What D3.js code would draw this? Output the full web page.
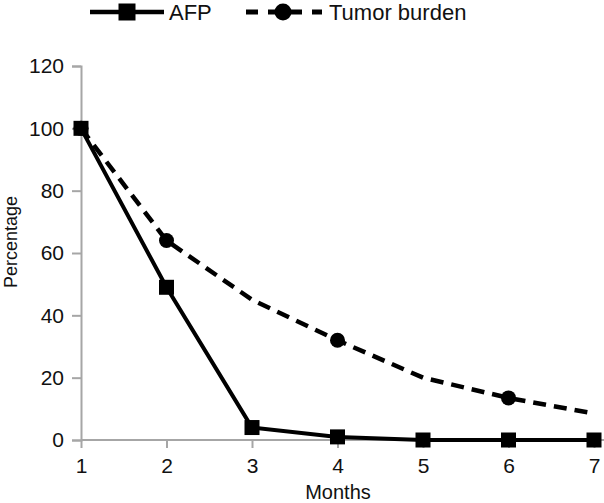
<!DOCTYPE html>
<html><head><meta charset="utf-8">
<script src="https://cdn.jsdelivr.net/npm/d3@7"></script>
<style>body{margin:0;background:#fff}svg{display:block}text{font-family:"Liberation Sans",Arial,sans-serif}</style>
</head><body><svg id="c" width="604" height="503"></svg>
<script>
const months = [1, 2, 3, 4, 5, 6, 7];
const afp = [100, 49, 4, 1, 0, 0, 0];
const tumor = [100, 64, 45, 32, 20, 13.5, 8.5];
const tumorMarkerMonths = [1, 2, 4, 6];
const yTicks = [0, 20, 40, 60, 80, 100, 120];
const seriesNames = ["AFP", "Tumor burden"];

const svg = d3.select("#c");
const x = d3.scaleLinear().domain([1, 7]).range([81, 594]);
const y = d3.scaleLinear().domain([0, 120]).range([440, 66]);
const axisColor = "#a6a6a6";
const FONT = "Liberation Sans, Arial, sans-serif";

const gy = svg.append("g").attr("transform", "translate(81,0)")
  .call(d3.axisLeft(y).tickValues(yTicks).tickSize(9).tickPadding(8));
gy.select(".domain").attr("stroke", axisColor).attr("stroke-width", 2);
gy.selectAll(".tick line").attr("stroke", axisColor).attr("stroke-width", 2);
gy.selectAll("text").attr("font-size", 21).attr("fill", "#111").attr("font-family", FONT);

const gx = svg.append("g").attr("transform", "translate(0,440)")
  .call(d3.axisBottom(x).tickValues(months).tickFormat(d3.format("d")).tickSize(8).tickPadding(10));
gx.select(".domain").attr("stroke", axisColor).attr("stroke-width", 2).attr("d", "M81,0H604");
gx.selectAll(".tick line").attr("stroke", axisColor).attr("stroke-width", 2);
gx.selectAll("text").attr("font-size", 21).attr("fill", "#111").attr("font-family", FONT);

svg.append("text").attr("x", 338).attr("y", 499).attr("text-anchor", "middle")
  .attr("font-size", 20).attr("fill", "#111").text("Months");
svg.append("text").attr("transform", "translate(17,242) rotate(-90)").attr("text-anchor", "middle")
  .attr("font-size", 18).attr("fill", "#111").text("Percentage");

const line = d3.line().x((d, i) => x(months[i])).y(d => y(d));
svg.append("path").datum(tumor).attr("d", line).attr("fill", "none")
  .attr("stroke", "#000").attr("stroke-width", 4.5).attr("stroke-dasharray", "13,8");
svg.append("path").datum(afp).attr("d", line).attr("fill", "none")
  .attr("stroke", "#000").attr("stroke-width", 4);

svg.selectAll("circle.tb").data(tumorMarkerMonths).enter().append("circle")
  .attr("cx", d => x(d)).attr("cy", d => y(tumor[months.indexOf(d)])).attr("r", 7.5).attr("fill", "#000");
const s = 15;
svg.selectAll("rect.afp").data(afp).enter().append("rect")
  .attr("x", (d, i) => x(months[i]) - s / 2).attr("y", d => y(d) - s / 2)
  .attr("width", s).attr("height", s).attr("fill", "#000");

// legend
const ly = 12;
svg.append("line").attr("x1", 90).attr("x2", 164).attr("y1", ly).attr("y2", ly).attr("stroke", "#000").attr("stroke-width", 4.5);
svg.append("rect").attr("x", 127 - 8.5).attr("y", ly - 8.5).attr("width", 17).attr("height", 17).attr("fill", "#000");
svg.append("text").attr("x", 169).attr("y", ly + 8).attr("font-size", 22).attr("fill", "#111").text(seriesNames[0]);
svg.append("line").attr("x1", 246).attr("x2", 322).attr("y1", ly).attr("y2", ly).attr("stroke", "#000").attr("stroke-width", 5).attr("stroke-dasharray", "12,10");
svg.append("circle").attr("cx", 283).attr("cy", ly).attr("r", 8.5).attr("fill", "#000");
svg.append("text").attr("x", 329).attr("y", ly + 8).attr("font-size", 22).attr("fill", "#111").text(seriesNames[1]);
</script></body></html>
